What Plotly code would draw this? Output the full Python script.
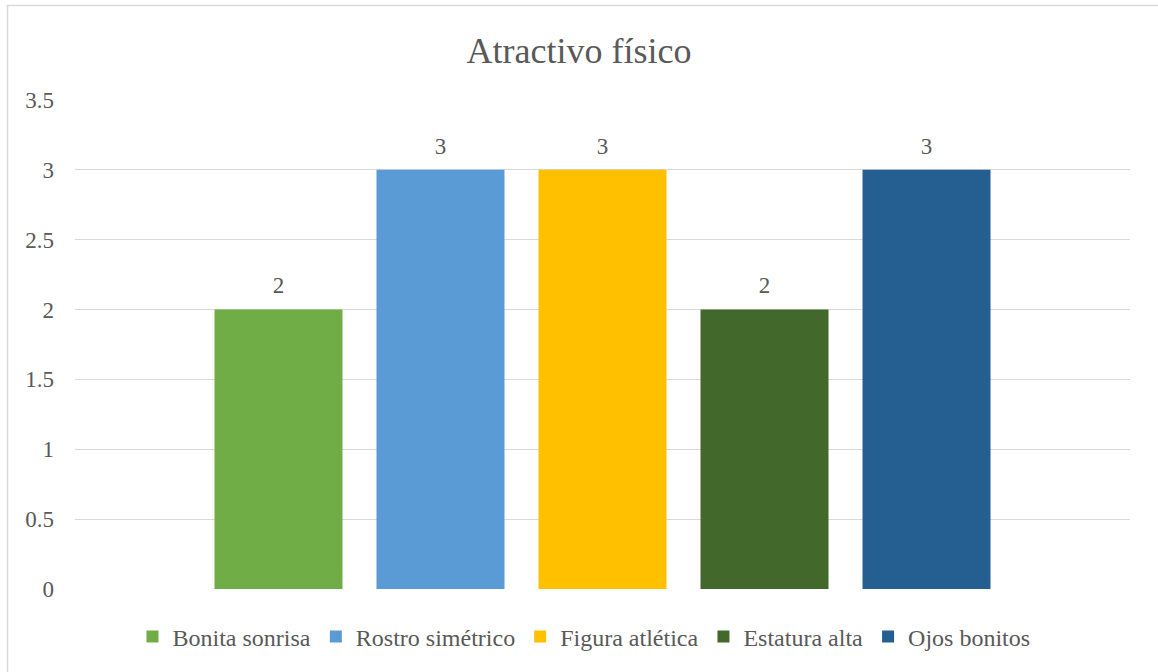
import plotly.graph_objects as go

series_names = ["Bonita sonrisa", "Rostro simétrico", "Figura atlética", "Estatura alta", "Ojos bonitos"]
series_values = [2, 3, 3, 2, 3]
series_colors = ["#70AD47", "#5B9BD5", "#FFC000", "#43682B", "#255E91"]
category = ["Atractivo físico"]

FONT = "Liberation Serif, Times New Roman, serif"
GREY = "#595959"

fig = go.Figure()
for name, val, col in zip(series_names, series_values, series_colors):
    fig.add_trace(go.Bar(
        name=name, x=category, y=[val], marker=dict(color=col, line=dict(width=0)),
        offsetgroup=name, legendgroup=name,
    ))
for name, val in zip(series_names, series_values):
    fig.add_trace(go.Scatter(
        name=name, x=category, y=[val], mode="markers+text",
        marker=dict(size=15, color="rgba(0,0,0,0)"),
        text=[str(val)], textposition="top center", cliponaxis=False,
        textfont=dict(family=FONT, size=23, color=GREY),
        offsetgroup=name, legendgroup=name, showlegend=False, hoverinfo="skip",
    ))

W, H = 1158, 672
L, R, T, B = 75, 28, 100, 83
pw, ph = W - L - R, H - T - B

fig.update_layout(
    width=W, height=H,
    margin=dict(l=L, r=R, t=T, b=B),
    paper_bgcolor="white", plot_bgcolor="white",
    barmode="group", bargap=0.2322, bargroupgap=0.21,
    scattermode="group", scattergap=0.2322,
    font=dict(family=FONT, size=24, color=GREY),
    title=dict(text="Atractivo físico", font=dict(family=FONT, size=36, color=GREY),
               x=0.5, xref="container", xanchor="center",
               y=1 - 50 / H, yref="container", yanchor="middle"),
    legend=dict(orientation="h", x=(584 - L) / pw, xanchor="center",
                y=(589 - 637) / ph, yanchor="middle",
                font=dict(family=FONT, size=24, color=GREY), traceorder="normal"),
    xaxis=dict(showticklabels=False, showgrid=False, zeroline=False, showline=False, ticks=""),
    yaxis=dict(range=[0, 3.5], dtick=0.5, showgrid=True, gridcolor="#D9D9D9", gridwidth=1,
               zeroline=False, showline=False, ticks="", ticklabelstandoff=20,
               tickfont=dict(family=FONT, size=23, color=GREY)),
    shapes=[dict(type="rect", xref="paper", yref="paper",
                 x0=(7.5 - L) / pw, x1=1.2, y0=-0.4, y1=(589 - 5.5) / ph,
                 line=dict(color="#D9D9D9", width=1.5), fillcolor="rgba(0,0,0,0)", layer="below")],
)

fig.write_html("out.html")
